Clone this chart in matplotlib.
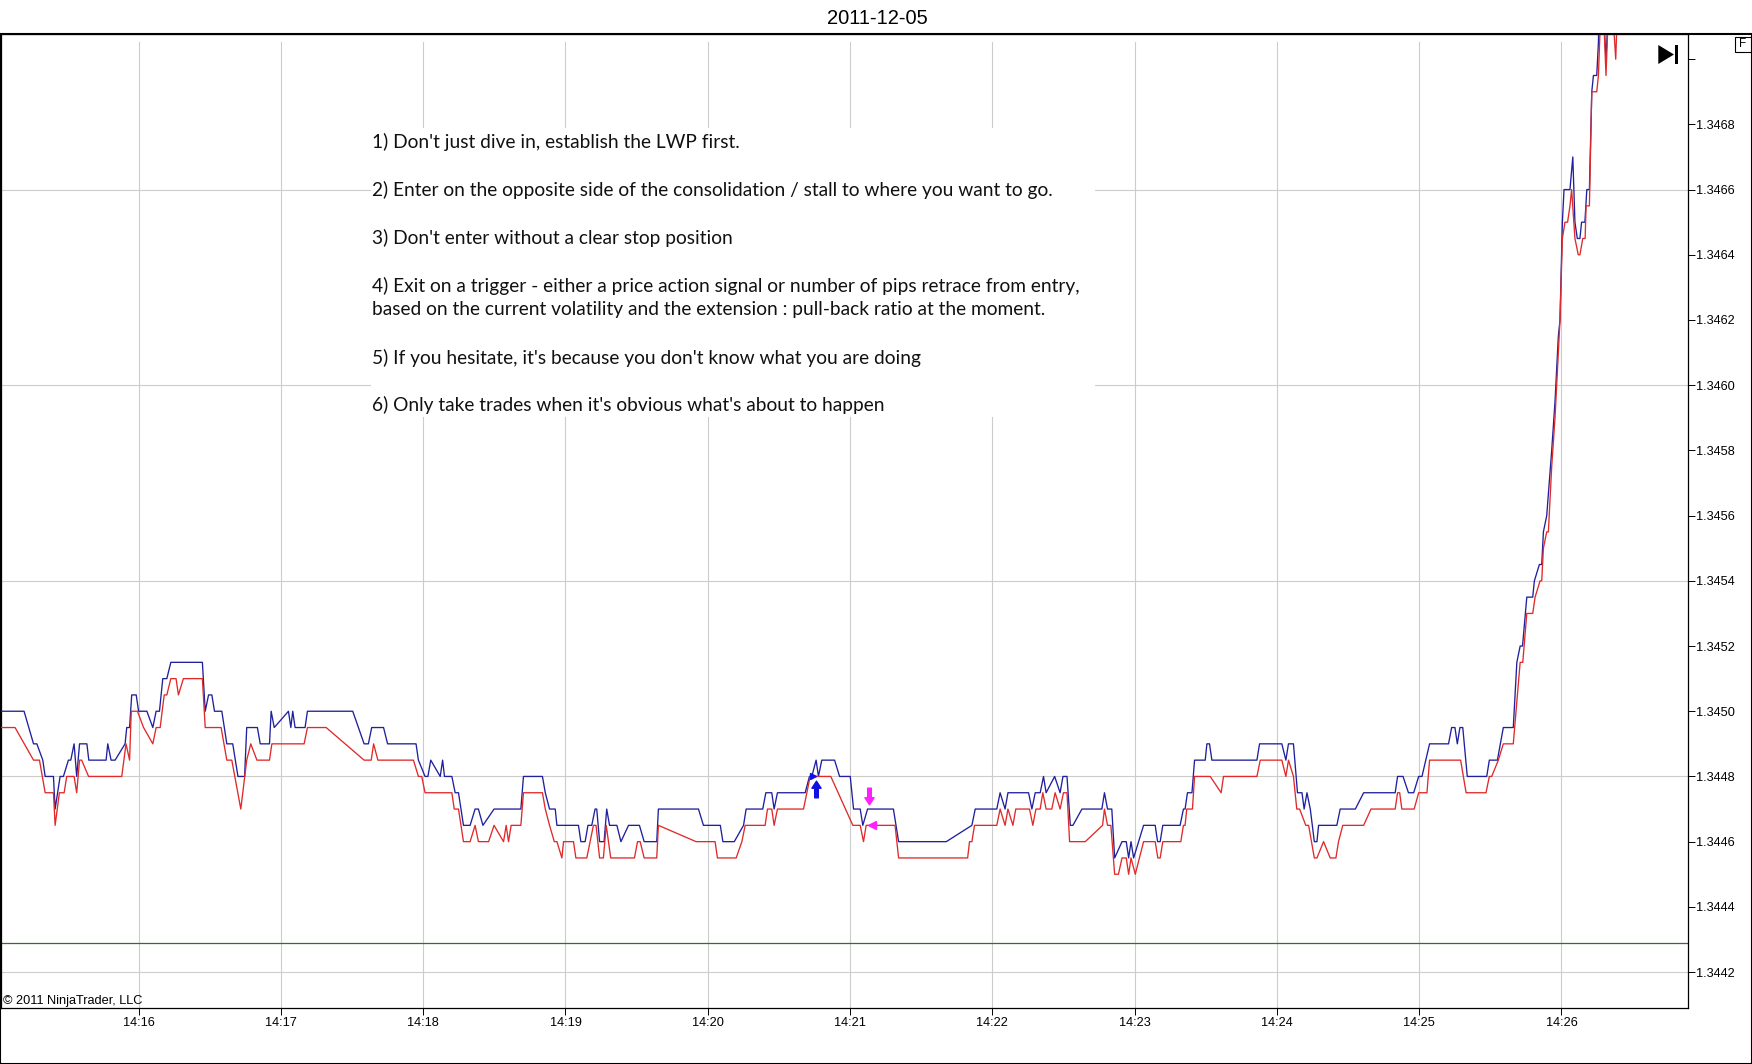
import numpy as np
import matplotlib
matplotlib.use("Agg")
import matplotlib.pyplot as plt
from matplotlib.patches import Rectangle, Polygon
from matplotlib.path import Path
from matplotlib.ticker import FixedLocator, FuncFormatter

plt.rcParams["font.family"] = ["Liberation Sans", "DejaVu Sans"]

# tick data: (seconds after 14:15:00, price in pips above 1.3400)
ask_ticks = [
    (0.0, 50), (11.7, 50), (15.7, 49), (17.1, 49), (19.6, 48.5), (20.6, 48), (24.1, 48), (24.8, 47),
    (26.9, 48), (28.3, 48), (30.4, 48.5), (31.4, 48.5), (32.8, 49), (33.9, 48), (35.1, 49), (38.2, 49),
    (39.0, 48.5), (46.3, 48.5), (47.0, 49), (48.4, 48.5), (50.1, 48.5), (54.3, 49), (55.0, 49.5),
    (56.2, 49.5), (57.1, 50.5), (59.0, 50.5), (60.0, 50), (63.5, 50), (66.0, 49.5), (67.4, 50),
    (68.8, 50), (70.2, 51), (71.9, 51), (73.6, 51.5), (86.9, 51.5), (88.1, 50), (89.5, 50.5),
    (90.9, 50.5), (92.0, 50), (95.1, 50), (97.2, 49), (99.7, 49), (101.9, 48), (104.7, 48),
    (105.6, 49.5), (110.1, 49.5), (111.3, 49), (115.2, 49), (115.9, 50), (117.2, 49.5), (123.2, 50),
    (124.2, 49.5), (125.0, 50), (126.0, 49.5), (130.2, 49.5), (131.2, 50), (150.3, 50), (155.1, 49),
    (156.9, 49), (158.3, 49.5), (163.3, 49.5), (165.0, 49), (177.0, 49), (178.0, 48.5), (180.8, 48),
    (182.0, 48), (183.2, 48.5), (187.2, 48), (188.2, 48.5), (189.0, 48), (192.1, 48), (193.5, 47.5),
    (194.9, 47.5), (197.0, 46.5), (199.8, 46.5), (201.9, 47), (203.3, 47), (205.2, 46.5), (209.9, 47),
    (221.2, 47), (222.3, 48), (230.3, 48), (231.5, 47.5), (233.3, 47), (235.7, 47), (236.4, 46.5),
    (245.5, 46.5), (246.5, 46), (248.3, 46), (249.5, 46.5), (251.1, 46.5), (252.5, 47), (253.2, 47),
    (254.4, 46), (256.3, 46), (257.4, 47), (258.6, 46.5), (261.7, 46.5), (263.4, 46), (266.6, 46.5),
    (271.2, 46.5), (273.2, 46), (278.5, 46), (279.2, 47), (296.1, 47), (298.2, 46.5), (305.3, 46.5),
    (306.4, 46), (311.2, 46), (315.1, 46.5), (316.2, 47), (323.2, 47), (324.5, 47.5), (327.0, 47.5),
    (328.0, 47), (329.4, 47.5), (341.1, 47.5), (342.9, 48), (343.9, 48), (345.7, 48.5), (346.7, 48),
    (348.1, 48.5), (353.5, 48.5), (355.6, 48), (360.1, 48), (361.5, 47), (364.3, 47), (365.4, 46.5),
    (367.4, 47), (378.3, 47), (380.5, 46), (400.6, 46), (411.4, 46.5), (412.8, 47), (421.9, 47),
    (423.3, 47.5), (425.4, 47), (426.6, 47.5), (435.3, 47.5), (436.7, 47), (438.1, 47.5), (440.2, 47.5),
    (441.6, 48), (442.7, 47.5), (446.3, 48), (448.6, 47.5), (449.8, 48), (451.5, 48), (452.9, 46.5),
    (454.0, 46.5), (457.8, 47), (466.2, 47), (467.3, 47.5), (468.6, 47), (470.4, 47), (471.6, 45.5),
    (474.7, 46), (476.5, 46), (477.5, 45.5), (478.5, 46), (479.6, 45.5), (483.8, 46.5), (488.7, 46.5),
    (489.7, 46), (490.8, 46), (491.9, 46.5), (499.2, 46.5), (500.6, 47), (501.3, 47), (502.3, 47.5),
    (504.2, 47.5), (505.3, 48.5), (509.8, 48.5), (510.5, 49), (511.6, 49), (512.6, 48.5), (531.6, 48.5),
    (532.7, 49), (542.1, 49), (543.8, 48.5), (544.9, 49), (547.0, 49), (548.7, 47.5), (550.6, 47.5),
    (551.5, 47), (552.7, 47.5), (554.1, 47), (555.8, 46), (556.9, 46), (557.6, 46.5), (565.3, 46.5),
    (566.7, 47), (573.1, 47), (576.6, 47.5), (589.9, 47.5), (590.9, 48), (593.2, 48), (595.5, 47.5),
    (597.7, 47.5), (599.8, 48), (601.2, 48), (604.4, 49), (612.4, 49), (613.7, 49.5), (615.1, 49.5),
    (616.1, 49), (617.2, 49.5), (618.4, 49.5), (620.3, 48), (628.5, 48), (629.6, 48.5), (633.0, 48.5),
    (635.5, 49.5), (639.7, 49.5), (641.2, 51.5), (642.6, 52), (643.6, 52), (645.4, 53.5), (647.9, 53.5),
    (648.6, 54), (650.7, 54.5), (651.7, 54.5), (652.4, 55.5), (653.8, 56), (655.9, 58), (657.3, 59.5),
    (658.7, 61.5), (659.4, 62), (660.4, 65), (661.1, 66), (663.6, 66), (664.8, 67), (665.7, 65),
    (666.7, 64.5), (667.8, 64.5), (668.5, 65), (669.9, 65), (670.7, 66), (671.8, 66), (672.8, 69),
    (673.5, 69.5), (674.9, 69.5), (675.6, 70.5), (675.9, 71.5), (677.7, 71.5), (678.8, 70), (679.8, 71.5),
]

bid_ticks = [
    (0.0, 49.5), (7.9, 49.5), (15.7, 48.5), (18.2, 48.5), (20.6, 47.5), (24.1, 47.5), (24.8, 46.5),
    (26.6, 47.5), (28.6, 47.5), (29.7, 48), (32.8, 48), (33.9, 47.5), (35.1, 48.5), (36.0, 48.5),
    (38.9, 48), (52.9, 48), (54.7, 49), (56.2, 48.5), (56.9, 50), (59.5, 50), (62.1, 49.5), (66.0, 49),
    (67.4, 49.5), (69.1, 49.5), (70.8, 50.5), (71.9, 50.5), (73.6, 51), (75.8, 51), (76.8, 50.5),
    (78.9, 51), (86.9, 51), (88.1, 49.5), (94.8, 49.5), (97.2, 48.5), (99.3, 48.5), (103.1, 47),
    (105.6, 48.5), (107.3, 49), (109.9, 48.5), (115.2, 48.5), (116.2, 49), (129.8, 49), (131.2, 49.5),
    (139.1, 49.5), (155.1, 48.5), (158.1, 48.5), (159.1, 49), (160.9, 48.5), (175.9, 48.5), (178.0, 48),
    (179.4, 48), (180.8, 47.5), (192.1, 47.5), (193.1, 47), (194.9, 47), (197.0, 46), (199.8, 46),
    (201.9, 46.5), (203.3, 46), (207.6, 46), (209.9, 46.5), (213.9, 46), (215.0, 46.5), (216.0, 46),
    (217.1, 46.5), (221.2, 46.5), (222.3, 47.5), (230.3, 47.5), (231.5, 47), (233.3, 46.5), (235.3, 46),
    (236.4, 46), (238.5, 45.5), (239.2, 46), (243.4, 46), (244.4, 45.5), (249.0, 45.5), (251.8, 46.5),
    (252.9, 46.5), (254.4, 45.5), (256.0, 45.5), (257.2, 46.5), (259.1, 45.5), (269.1, 45.5), (270.4, 46),
    (271.5, 46), (273.2, 45.5), (278.5, 45.5), (279.2, 46.5), (295.1, 46), (303.1, 46), (304.1, 45.5),
    (312.0, 45.5), (314.4, 46), (315.8, 46.5), (324.2, 46.5), (325.2, 47), (327.0, 47), (328.0, 46.5),
    (329.4, 47), (340.4, 47), (341.8, 47.5), (343.2, 48), (351.9, 48), (361.2, 46.5), (364.3, 46.5),
    (365.7, 46), (366.8, 46.5), (379.0, 46.5), (380.5, 45.5), (409.6, 45.5), (410.4, 46), (411.4, 46),
    (412.5, 46.5), (421.9, 46.5), (423.3, 47), (425.4, 46.5), (426.6, 47), (428.7, 46.5), (429.9, 47),
    (435.7, 47), (437.1, 46.5), (438.4, 47), (440.2, 47), (441.3, 47.5), (442.7, 47), (445.1, 47),
    (446.5, 47.5), (448.6, 47), (450.0, 47.5), (451.5, 47.5), (452.6, 46), (459.2, 46), (466.5, 46.5),
    (467.3, 47), (468.6, 46.5), (470.0, 46.5), (471.6, 45), (473.2, 45), (474.7, 45.5), (476.5, 45.5),
    (477.5, 45), (478.5, 45.5), (480.3, 45), (483.8, 46), (488.7, 46), (489.8, 45.5), (490.8, 45.5),
    (491.9, 46), (499.5, 46), (500.6, 46.5), (501.3, 46.5), (502.0, 47), (504.4, 47), (505.3, 48),
    (511.9, 48), (516.5, 47.5), (517.5, 48), (531.6, 48), (533.0, 48.5), (542.1, 48.5), (543.8, 48),
    (544.9, 48.5), (547.0, 48), (548.4, 47), (549.6, 47), (552.2, 46.5), (553.4, 46.5), (555.8, 45.5),
    (556.9, 45.5), (559.7, 46), (562.5, 45.5), (564.9, 45.5), (566.0, 46), (567.8, 46.5), (576.6, 46.5),
    (579.7, 47), (589.9, 47), (590.9, 47.5), (591.8, 47.5), (592.7, 47), (597.9, 47), (599.8, 47.5),
    (603.3, 47.5), (604.4, 48.5), (617.5, 48.5), (619.8, 47.5), (628.2, 47.5), (629.6, 48), (630.6, 48),
    (633.4, 48.5), (635.5, 49), (639.7, 49), (642.6, 51.5), (643.7, 51.5), (645.4, 53), (647.9, 53),
    (648.9, 53.5), (651.0, 54), (651.7, 54), (652.4, 55), (653.8, 55.5), (654.5, 55.5), (655.9, 57.5),
    (657.3, 59), (659.4, 62), (660.4, 64.5), (661.5, 65), (662.6, 65), (663.6, 65.5), (664.3, 66),
    (665.7, 64.5), (667.1, 64), (667.8, 64), (669.0, 64.5), (670.0, 64.5), (670.4, 65.5), (671.8, 65.5),
    (672.8, 69), (674.9, 69), (675.6, 69.5), (676.6, 71.5), (677.7, 71.5), (678.8, 69.5), (679.8, 71.5),
    (681.6, 71.5), (682.9, 70), (683.6, 71.5),
]

# trade markers
signal_times = [345.6, 367.8]        # long entry arrow, exit arrow
signal_prices = [1.34476, 1.34474]
fill_times = [344.2, 369.2]
fill_prices = [1.34480, 1.34465]
stop_price = 1.34429

chart_date = "2011-12-05"
notes = [
    "1) Don't just dive in, establish the LWP first.",
    "2) Enter on the opposite side of the consolidation / stall to where you want to go.",
    "3) Don't enter without a clear stop position",
    "4) Exit on a trigger - either a price action signal or number of pips retrace from entry,",
    "based on the current volatility and the extension : pull-back ratio at the moment.",
    "5) If you hesitate, it's because you don't know what you are doing",
    "6) Only take trades when it's obvious what's about to happen",
]
note_y = [0.8894, 0.8402, 0.7909, 0.7416, 0.7170, 0.6677, 0.6195]

ask_t, ask_p = np.array(ask_ticks).T
bid_t, bid_p = np.array(bid_ticks).T
ask_p = 1.34 + ask_p / 10000
bid_p = 1.34 + bid_p / 10000

grid_col = "#cccccc"

fig = plt.figure(figsize=(17.52, 10.64), dpi=100)
ax = fig.add_axes([0.0006, 0.0523, 0.9629, 0.9155])

ax.plot(ask_t, ask_p, color="#20209e", lw=0.95, zorder=3)
ax.plot(bid_t, bid_p, color="#e02a2a", lw=0.95, zorder=3.1)
ax.axhline(stop_price, color="#2f6f2f", lw=0.9, zorder=2)

ax.set_xlim(2.0, 713.4)
ax.set_ylim(1.3440887, 1.3470764)

# markers
up = Path([(-0.22, -1), (0.22, -1), (0.22, 0.15), (0.55, 0.15), (0, 1), (-0.55, 0.15), (-0.22, 0.15), (-0.22, -1)],
          [1, 2, 2, 2, 2, 2, 2, 79])
down = Path([(x, -y) for x, y in up.vertices], up.codes)
ax.plot(signal_times[0], signal_prices[0], marker=up, ms=12, color="#1010e0", ls="none", zorder=4)
ax.plot(signal_times[1], signal_prices[1], marker=down, ms=12, color="#ff20ff", ls="none", zorder=4)
ax.plot(fill_times[0], fill_prices[0], marker=">", ms=5, color="#1010e0", ls="none", zorder=4)
ax.plot(fill_times[1], fill_prices[1], marker="<", ms=6, color="#ff20ff", ls="none", zorder=4)

# axes / ticks
yt = np.arange(1.3442, 1.34705, 0.0002)
ax.yaxis.tick_right()
ax.yaxis.set_major_locator(FixedLocator(yt))
ax.yaxis.set_major_formatter(FuncFormatter(lambda v, _: "" if v > 1.34695 else f"{v:.4f}"))
xt = np.arange(60, 700, 60)
ax.xaxis.set_major_locator(FixedLocator(xt))
ax.xaxis.set_major_formatter(FuncFormatter(lambda v, _: f"14:{15 + int(round(v)) // 60:02d}"))
ax.tick_params(axis="both", direction="out", length=4.8, width=0.7, labelsize=9.2, colors="black")
ax.tick_params(axis="y", pad=1.2)
ax.tick_params(axis="x", pad=1.6)
for s in ax.spines.values():
    s.set_color("black")
    s.set_linewidth(0.9)

for v in yt[::3]:
    ax.axhline(v, color=grid_col, lw=0.8, zorder=0)
for v in xt:
    ax.axvline(v, ymax=0.9924, color=grid_col, lw=0.8, zorder=0)

# note box
ax.add_patch(Rectangle((0.2193, 0.6071), 0.4292, 0.2967, transform=ax.transAxes,
                       facecolor="white", edgecolor="none", zorder=1.5))
for txt, y in zip(notes, note_y):
    ax.text(0.2199, y, txt, transform=ax.transAxes, ha="left", va="center",
            fontsize=13.8, family="Lato", color="#111111", zorder=2.5)

ax.text(0.0012, 0.0044, "\u00a9 2011 NinjaTrader, LLC", transform=ax.transAxes, ha="left",
        va="baseline", fontsize=9.2, color="black")

fig.text(0.5006, 0.9822, chart_date, ha="center", va="center", fontsize=14.5)

# panel frame and small chart-trader glyphs
fig.patches.append(Rectangle((0, 0), 1, 0.9678, transform=fig.transFigure, fill=False,
                             edgecolor="black", lw=1.5))
inch = fig.dpi_scale_trans
H = 10.64
fig.patches.append(Polygon([(16.583, H - 0.45), (16.583, H - 0.64), (16.74, H - 0.545)],
                           closed=True, transform=inch, facecolor="black", edgecolor="none"))
fig.patches.append(Rectangle((16.75, H - 0.64), 0.033, 0.19, transform=inch,
                             facecolor="black", edgecolor="none"))
fig.patches.append(Rectangle((17.35, H - 0.517), 0.155, 0.15, transform=inch,
                             facecolor="white", edgecolor="black", lw=0.8))
fig.text(17.428 / 17.52, 1 - 0.442 / H, "F", ha="center", va="center", fontsize=8.5)

fig.savefig("out.png", dpi=100)
